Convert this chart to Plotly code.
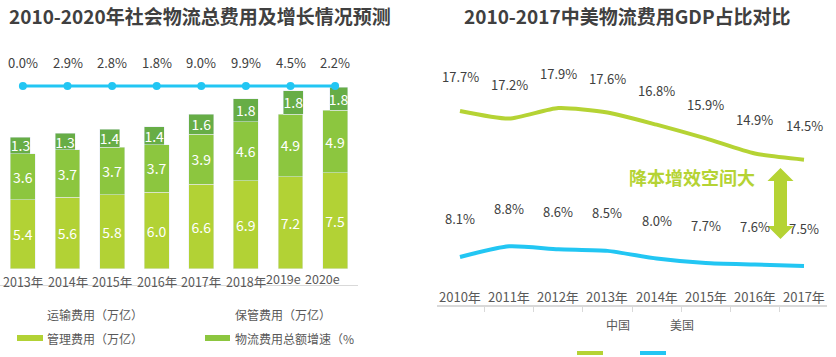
import plotly.graph_objects as go

# ---------------- data ----------------
years_left = ["2013年", "2014年", "2015年", "2016年", "2017年", "2018年", "2019e", "2020e"]
transport = [5.4, 5.6, 5.8, 6.0, 6.6, 6.9, 7.2, 7.5]      # 运输费用（万亿）
storage = [3.6, 3.7, 3.7, 3.7, 3.9, 4.6, 4.9, 4.9]        # 保管费用（万亿）
management = [1.3, 1.3, 1.4, 1.4, 1.6, 1.8, 1.8, 1.8]     # 管理费用（万亿）
growth = [0.0, 2.9, 2.8, 1.8, 9.0, 9.9, 4.5, 2.2]         # 物流费用总额增速（%）
growth_display_level = [1] * len(growth)                  # growth drawn as flat band

years_right = ["2010年", "2011年", "2012年", "2013年", "2014年", "2015年", "2016年", "2017年"]
china = [17.7, 17.2, 17.9, 17.6, 16.8, 15.9, 14.9, 14.5]
usa = [8.1, 8.8, 8.6, 8.5, 8.0, 7.7, 7.6, 7.5]

# ---------------- style ----------------
W, H = 836, 357
FONT = "Noto Sans CJK SC, Noto Sans, sans-serif"
C_BOTTOM = "#b2d235"
C_MID = "#8cc63f"
C_TOP = "#67ad46"
C_CYAN = "#22c6f3"
C_CHINA = "#b5d334"
C_TEXT = "#404040"
C_LABEL = "#595959"


def px(x):
    return x / W


def py(y):
    return 1 - y / H


fig = go.Figure()

bar_w = 0.56
bar_text_font = dict(color="white", size=14, family=FONT)
fig.add_trace(go.Bar(x=years_left, y=transport, name="运输费用（万亿）", marker_color=C_BOTTOM,
                     width=bar_w, text=[f"{v:.1f}" for v in transport], textposition="inside",
                     insidetextanchor="middle", constraintext="none", textangle=0,
                     textfont=bar_text_font, xaxis="x", yaxis="y"))
fig.add_trace(go.Bar(x=years_left, y=storage, name="保管费用（万亿）", marker_color=C_MID,
                     width=bar_w, text=[f"{v:.1f}" for v in storage], textposition="inside",
                     insidetextanchor="middle", constraintext="none", textangle=0,
                     textfont=bar_text_font, xaxis="x", yaxis="y"))
top_w = [0.45, 0.45, 0.45, 0.45, 0.56, 0.56, 0.45, 0.40]
top_off = [-0.28, -0.28, -0.28, -0.28, -0.28, -0.28, -0.16, -0.12]
fig.add_trace(go.Bar(x=years_left, y=management, name="管理费用（万亿）", marker_color=C_TOP,
                     width=top_w, offset=top_off, text=[f"{v:.1f}" for v in management],
                     textposition="inside", insidetextanchor="middle", constraintext="none",
                     textangle=0, textfont=bar_text_font, xaxis="x", yaxis="y"))

fig.add_trace(go.Scatter(x=years_left, y=growth_display_level, mode="lines+markers",
                         line=dict(color=C_CYAN, width=3), marker=dict(color=C_CYAN, size=8),
                         xaxis="x", yaxis="y3", hoverinfo="skip"))

fig.add_trace(go.Scatter(x=years_right, y=china, mode="lines", name="中国",
                         line=dict(color=C_CHINA, width=4, shape="spline", smoothing=0.6),
                         xaxis="x2", yaxis="y2"))
fig.add_trace(go.Scatter(x=years_right, y=usa, mode="lines", name="美国",
                         line=dict(color=C_CYAN, width=4, shape="spline", smoothing=0.6),
                         xaxis="x2", yaxis="y2"))

annotations = []
# titles
annotations.append(dict(text="<b>2010-2020年社会物流总费用及增长情况预测</b>", x=px(200), y=py(16),
                        xref="paper", yref="paper", showarrow=False, xanchor="center", yanchor="middle",
                        font=dict(size=19, color=C_TEXT, family=FONT)))
annotations.append(dict(text="<b>2010-2017中美物流费用GDP占比对比</b>", x=px(627), y=py(16),
                        xref="paper", yref="paper", showarrow=False, xanchor="center", yanchor="middle",
                        font=dict(size=19, color=C_TEXT, family=FONT)))
# growth labels
for yr, g, lv in zip(years_left, growth, growth_display_level):
    annotations.append(dict(text=f"{g:.1f}%", x=yr, y=lv, xref="x", yref="y3", showarrow=False,
                            yshift=24, font=dict(size=13, color=C_TEXT, family=FONT)))
# left category labels (sit above the axis line; the estimates drawn a little offset)
left_label_dx = [0, 0, 0, 0, 0, 0, -7, -13]
left_label_y = [281, 281, 281, 281, 281, 281, 278, 278]
for yr, dx, ly in zip(years_left, left_label_dx, left_label_y):
    annotations.append(dict(text=yr, x=yr, y=py(ly), xref="x", yref="paper", showarrow=False,
                            xanchor="center", yanchor="middle", xshift=dx,
                            font=dict(size=12.5, color=C_LABEL, family=FONT)))
# right labels
for yr, v in zip(years_right, china):
    annotations.append(dict(text=f"{v:.1f}%", x=yr, y=v, xref="x2", yref="y2", showarrow=False,
                            yshift=34, font=dict(size=13, color=C_TEXT, family=FONT)))
for yr, v in zip(years_right, usa):
    annotations.append(dict(text=f"{v:.1f}%", x=yr, y=v, xref="x2", yref="y2", showarrow=False,
                            yshift=38, font=dict(size=13, color=C_TEXT, family=FONT)))
# right category labels (sit above the axis line)
for yr in years_right:
    annotations.append(dict(text=yr, x=yr, y=py(296), xref="x2", yref="paper", showarrow=False,
                            xanchor="center", yanchor="middle",
                            font=dict(size=13, color=C_LABEL, family=FONT)))
# callout text
annotations.append(dict(text="<b>降本增效空间大</b>", x=px(692), y=py(177), xref="paper", yref="paper",
                        showarrow=False, xanchor="center", yanchor="middle",
                        font=dict(size=18, color=C_CHINA, family=FONT)))
# legend texts
leg_font = dict(size=12, color=C_LABEL, family=FONT)
for txt, x, y in [("运输费用（万亿）", 45, 314), ("保管费用（万亿）", 233, 314),
                  ("管理费用（万亿）", 45, 338), ("物流费用总额增速（%", 233, 338),
                  ("中国", 604, 324), ("美国", 668, 324)]:
    annotations.append(dict(text=txt, x=px(x), y=py(y), xref="paper", yref="paper", showarrow=False,
                            xanchor="left", yanchor="middle", font=leg_font))

shapes = []
for x0, x1, y0, y1, c in [(17, 43, 335, 341, C_BOTTOM), (205, 230, 335, 341, C_MID),
                          (577, 603, 351, 355, C_CHINA), (640, 666, 351, 355, C_CYAN)]:
    shapes.append(dict(type="rect", xref="paper", yref="paper", x0=px(x0), x1=px(x1),
                       y0=py(y1), y1=py(y0), fillcolor=c, line=dict(width=0)))
# double arrow
cx, top, bot, hw, hh, sw = 780.5, 168, 239, 13, 13, 6.5
pts = [(cx, top), (cx + hw, top + hh), (cx + sw, top + hh), (cx + sw, bot - hh), (cx + hw, bot - hh),
       (cx, bot), (cx - hw, bot - hh), (cx - sw, bot - hh), (cx - sw, top + hh), (cx - hw, top + hh)]
path = "M " + " L ".join(f"{px(a):.5f},{py(b):.5f}" for a, b in pts) + " Z"
shapes.append(dict(type="path", xref="paper", yref="paper", path=path, fillcolor=C_CHINA,
                   line=dict(width=0)))

fig.update_layout(
    width=W, height=H, margin=dict(l=0, r=0, t=0, b=0, autoexpand=False),
    paper_bgcolor="white", plot_bgcolor="white", showlegend=False,
    barmode="stack", font=dict(family=FONT, color=C_LABEL),
    xaxis=dict(domain=[0, px(358)], type="category", showline=True, linecolor="#d9d9d9", linewidth=1,
               ticks="", showticklabels=False, showgrid=False, zeroline=False,
               automargin=False, anchor="y"),
    yaxis=dict(domain=[py(285), 1], range=[-1.25, 21.0], visible=False, showgrid=False, zeroline=False),
    yaxis3=dict(overlaying="y", range=[0, 1 / 0.698], visible=False, showgrid=False, zeroline=False),
    xaxis2=dict(domain=[px(437), px(827)], type="category", showline=True, linecolor="#d9d9d9",
                linewidth=1.5, ticks="outside", tickson="boundaries", ticklen=5, tickcolor="#d9d9d9",
                showticklabels=False, showgrid=False, zeroline=False, anchor="y2",
                automargin=False),
    yaxis2=dict(domain=[py(305), 1], range=[4.94, 25.0], visible=False, showgrid=False, zeroline=False,
                anchor="x2"),
    annotations=annotations, shapes=shapes,
)

fig.write_html("out.html", config={"displayModeBar": False},
               post_script="document.body.style.margin='0';document.body.style.padding='0';")
